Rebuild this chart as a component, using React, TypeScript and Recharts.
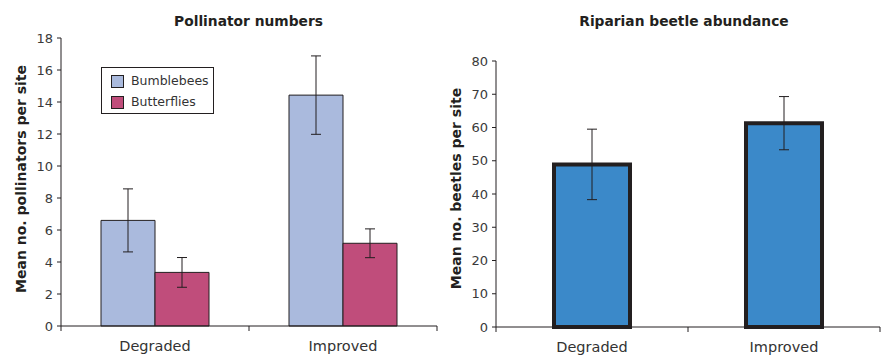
import React from 'react';
import { BarChart, Bar, XAxis, YAxis, ErrorBar, Legend } from 'recharts';

const categories = ['Degraded', 'Improved'];
const bumblebees = [6.6, 14.43];
const bumblebeeErr = [1.97, 2.45];
const butterflies = [3.35, 5.17];
const butterflyErr = [0.93, 0.9];
const beetles = [48.9, 61.3];
const beetleErr = [10.6, 8.0];
const pollinatorTicks = [0, 2, 4, 6, 8, 10, 12, 14, 16, 18];
const beetleTicks = [0, 10, 20, 30, 40, 50, 60, 70, 80];

const pollinatorData = categories.map((cat, i) => ({
  cat,
  bumblebees: bumblebees[i],
  bumblebeeErr: bumblebeeErr[i],
  butterflies: butterflies[i],
  butterflyErr: butterflyErr[i],
}));

const beetleData = categories.map((cat, i) => ({
  cat,
  beetles: beetles[i],
  beetleErr: beetleErr[i],
}));

const FONT = '"DejaVu Sans", sans-serif';
const INK = '#231F20';

// category tick: label at band centre, tick marks at band edges (Excel style)
const BandTick = (props: any) => {
  const { x, y, payload } = props;
  const off = payload?.offset ?? props.width / props.visibleTicksCount / 2;
  return (
    <g>
      {payload.index === 0 && (
        <line x1={x - off} x2={x - off} y1={y} y2={y + 5} stroke={INK} />
      )}
      <line x1={x + off} x2={x + off} y1={y} y2={y + 5} stroke={INK} />
      <text x={x} y={y + 25} textAnchor="middle" fontSize={14.5} fill="#333" fontFamily={FONT}>
        {payload.value}
      </text>
    </g>
  );
};

const LegendBox = ({ payload }: any) => (
  <div
    style={{
      border: `1px solid ${INK}`,
      width: 111,
      height: 45,
      boxSizing: 'content-box',
      fontFamily: FONT,
      fontSize: 12.5,
      color: '#333',
      background: '#fff',
    }}
  >
    {(payload || []).map((p: any, i: number) => (
      <div key={p.value} style={{ position: 'relative', height: 21, marginTop: i === 0 ? 7 : 0 }}>
        <span
          style={{
            position: 'absolute',
            left: 9,
            top: 0,
            width: 11,
            height: 11,
            background: p.color,
            border: `1px solid ${INK}`,
          }}
        />
        <span style={{ position: 'absolute', left: 29, top: -3, lineHeight: '18px' }}>{p.value}</span>
      </div>
    ))}
  </div>
);

export default function App() {
  const tickStyle = { fontSize: 13, fill: '#3a3a3a', fontFamily: FONT };
  return (
    <div style={{ position: 'absolute', left: 0, top: 0, width: 891, height: 355, background: '#fff' }}>
      <div style={{ position: 'absolute', left: 0, top: 0 }}>
        <BarChart width={445} height={355} data={pollinatorData} margin={{ top: 38, right: 8, bottom: 0, left: 0 }} barGap={0}>
          <XAxis dataKey="cat" height={29} tickLine={false} tickSize={0} tickMargin={0} axisLine={{ stroke: INK }} tick={<BandTick />} interval={0} />
          <YAxis width={61} domain={[0, 18]} ticks={pollinatorTicks} tickSize={4} tickMargin={4} axisLine={{ stroke: INK }} tickLine={{ stroke: INK }} tick={tickStyle} interval={0} />
          <Legend layout="vertical" align="center" verticalAlign="middle" content={<LegendBox />} wrapperStyle={{ left: 101, top: 67, width: 113, height: 47 }} />
          <Bar dataKey="bumblebees" name="Bumblebees" fill="#AABADD" stroke={INK} strokeWidth={1} barSize={54} isAnimationActive={false}>
            <ErrorBar dataKey="bumblebeeErr" width={5} stroke={INK} strokeWidth={1} />
          </Bar>
          <Bar dataKey="butterflies" name="Butterflies" fill="#C04D7B" stroke={INK} strokeWidth={1} barSize={54} isAnimationActive={false}>
            <ErrorBar dataKey="butterflyErr" width={5} stroke={INK} strokeWidth={1} />
          </Bar>
        </BarChart>
      </div>
      <div style={{ position: 'absolute', left: 445, top: 0 }}>
        <BarChart width={446} height={355} data={beetleData} margin={{ top: 61, right: 11, bottom: 0, left: 0 }}>
          <XAxis dataKey="cat" height={28} tickLine={false} tickSize={0} tickMargin={0} axisLine={{ stroke: INK }} tick={<BandTick />} interval={0} />
          <YAxis width={51} domain={[0, 80]} ticks={beetleTicks} tickSize={4} tickMargin={4} axisLine={{ stroke: INK }} tickLine={{ stroke: INK }} tick={tickStyle} interval={0} />
          <Bar dataKey="beetles" name="Beetles" fill="#3B89C9" stroke={INK} strokeWidth={4} barSize={76} isAnimationActive={false}>
            <ErrorBar dataKey="beetleErr" width={5} stroke={INK} strokeWidth={1} />
          </Bar>
        </BarChart>
      </div>
      <svg width={891} height={355} style={{ position: 'absolute', left: 0, top: 0, pointerEvents: 'none' }}>
        <g fontFamily={FONT} fontWeight="bold" fill="#231F20">
          <text x={248.5} y={26} textAnchor="middle" fontSize={13.8}>Pollinator numbers</text>
          <text x={684} y={26} textAnchor="middle" fontSize={13.8}>Riparian beetle abundance</text>
          <text transform="translate(26,179) rotate(-90)" textAnchor="middle" fontSize={14}>Mean no. pollinators per site</text>
          <text transform="translate(460.5,188.5) rotate(-90)" textAnchor="middle" fontSize={14}>Mean no. beetles per site</text>
        </g>
      </svg>
    </div>
  );
}
